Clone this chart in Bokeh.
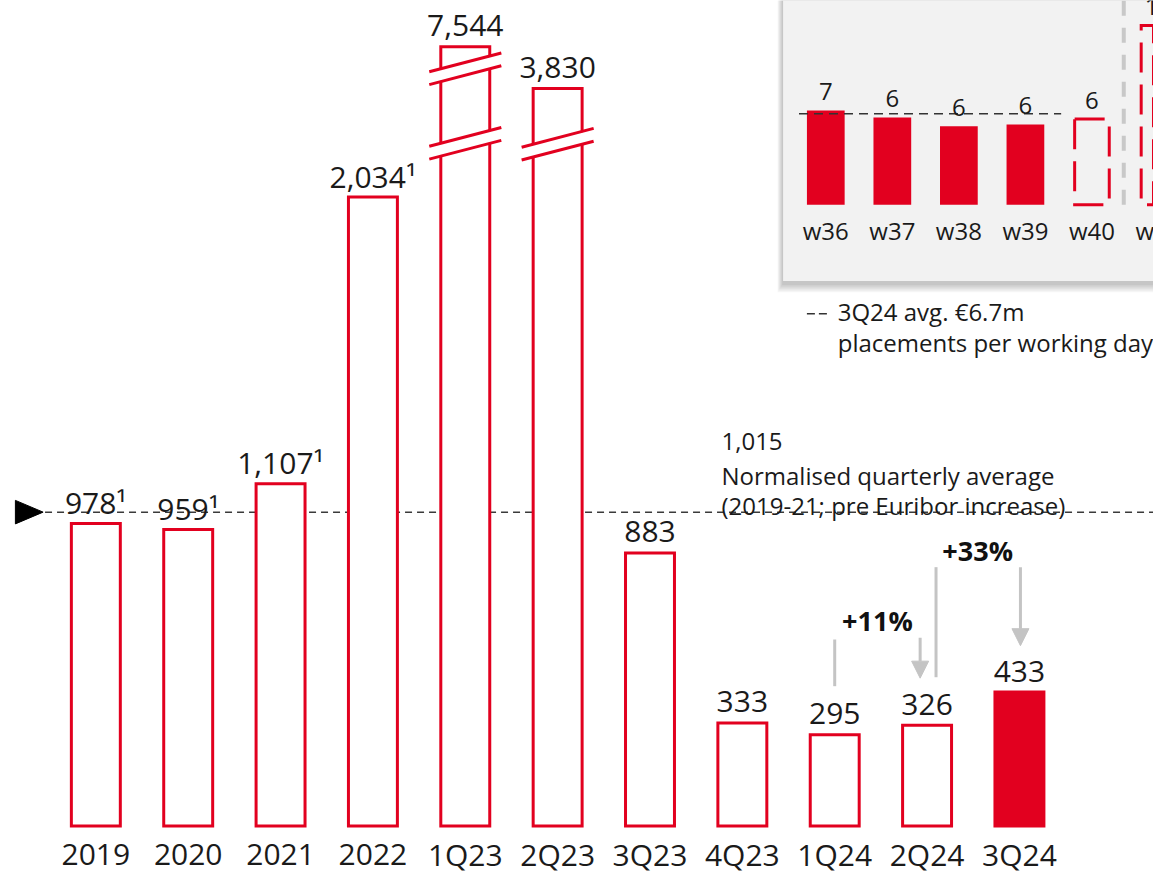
from bokeh.plotting import figure
from bokeh.models import Range1d, Arrow, NormalHead, ColumnDataSource
from bokeh.core.properties import value
from bokeh.embed import file_html
from bokeh.resources import INLINE

# ---------------- data ----------------
categories = ["2019", "2020", "2021", "2022", "1Q23", "2Q23", "3Q23", "4Q23", "1Q24", "2Q24", "3Q24"]
values = [978, 959, 1107, 2034, 7544, 3830, 883, 333, 295, 326, 433]
footnotes = ["¹", "¹", "¹", "¹", "", "", "", "", "", "", ""]
highlight = [False] * 10 + [True]
# bars drawn with an axis break: height shown on the truncated scale
broken_shown = {"1Q23": 2520, "2Q23": 2385}
break_marks = {"1Q23": [2449, 2208], "2Q23": [2205]}
normalised_avg = 1015

weeks = ["w36", "w37", "w38", "w39", "w40", "w41"]
week_values = [6.93, 6.42, 5.77, 5.91, 6.3, 13.2]
week_labels = ["7", "6", "6", "6", "6", "13"]
week_partial = [False, False, False, False, True, True]
week_avg = 6.7

RED = "#E2001F"
TXT = "#1a1a1a"
GRAY = "#c4c4c4"
FONT = value("Open Sans")

W, H = 1153, 872
p = figure(width=W, height=H, x_range=Range1d(-1.0323, 11.4516),
           y_range=Range1d(-150.64, 2669.9), output_backend="svg",
           toolbar_location=None, min_border=0, x_axis_type=None, y_axis_type=None)
p.grid.visible = False
p.outline_line_color = None
p.background_fill_color = "white"
p.extra_x_ranges = {"ix": Range1d(-12.403, 4.925)}
p.extra_y_ranges = {"iy": Range1d(-49.197, 15.037)}
IX = dict(x_range_name="ix", y_range_name="iy")

# ---------------- inset box ----------------
L, R, B, T = -0.642, 6.0, -5.62, 20.0
for k in range(6):
    e = k * 1.5
    p.quad(left=L + (-1 - e * 0.6) / 67, right=R, bottom=B - (4 + e) / 13.7, top=T,
           fill_color="black", fill_alpha=0.04, line_color=None, **IX)
p.quad(left=L, right=R, bottom=B, top=T, fill_color="#f2f2f2", line_color=None, **IX)

wx = list(range(len(weeks)))
solid = [i for i in wx if not week_partial[i]]
part = [i for i in wx if week_partial[i]]
p.vbar(x=solid, top=[week_values[i] for i in solid], bottom=0, width=0.567,
       fill_color=RED, line_color=None, **IX)
p.vbar(x=part, top=[week_values[i] for i in part], bottom=0, width=0.52,
       fill_color=None, line_color=RED, line_width=3, line_dash="30 12", line_join="miter", **IX)
p.segment(x0=[-0.403], y0=[week_avg], x1=[3.537], y1=[week_avg], line_color="#333333",
          line_width=1.5, line_dash="9 6", **IX)
p.segment(x0=[4.478], y0=[0], x1=[4.478], y1=[20], line_color="#c8c8c8",
          line_width=4, line_dash="15 12", **IX)
p.text(x=wx, y=week_values, text=week_labels, text_align="center", text_baseline="middle",
       y_offset=-19, text_font=FONT, text_font_size="24px", text_color=TXT, **IX)
p.text(x=wx, y=[0] * len(wx), text=weeks, text_align="center", text_baseline="middle",
       y_offset=26, text_font=FONT, text_font_size="24px", text_color=TXT, **IX)
# legend
p.segment(x0=[-0.284], y0=[-8.03], x1=[0.045], y1=[-8.03], line_color="#333333",
          line_width=1.5, line_dash="8 4", **IX)
p.text(x=[0.179, 0.179], y=[-7.88, -10.15],
       text=["3Q24 avg. €6.7m", "placements per working day"],
       text_align="left", text_baseline="middle", text_font=FONT,
       text_font_size="24px", text_color=TXT, **IX)

# ---------------- main chart ----------------
xs = list(range(len(categories)))
shown = [broken_shown.get(c, v) for c, v in zip(categories, values)]
src = ColumnDataSource(dict(
    x=xs, top=shown,
    fill=[RED if h else "white" for h in highlight],
    label=[f"{v:,}{f}" for v, f in zip(values, footnotes)],
    cat=categories, zero=[0] * len(xs)))

# normalised average reference line
p.segment(x0=[-0.55], y0=[normalised_avg], x1=[11.6], y1=[normalised_avg],
          line_color="#3a3a3a", line_width=1.5, line_dash="7 5")
p.patch(x=[-0.871, -0.571, -0.871], y=[normalised_avg + 38, normalised_avg, normalised_avg - 38],
        fill_color="black", line_color="black")

p.vbar(x="x", top="top", bottom=0, width=0.53, fill_color="fill", line_color=RED,
       line_width=3, line_join="miter", source=src)

# axis-break marks
for cat, ys in break_marks.items():
    i = categories.index(cat)
    for yc in ys:
        p.patch(x=[i - 0.31, i + 0.31, i + 0.31, i - 0.31],
                y=[yc - 18 - 24.2, yc - 18 + 24.2, yc + 18 + 24.2, yc + 18 - 24.2],
                fill_color="white", line_color=None)
        for s in (-20.8, 20.8):
            p.line(x=[i - 0.39, i + 0.39], y=[yc + s - 30.4, yc + s + 30.4],
                   line_color=RED, line_width=3)

p.text(x="x", y="top", text="label", text_align="center", text_baseline="middle",
       y_offset=-21, text_font=FONT, text_font_size="30px", text_color=TXT, source=src)
p.text(x="x", y="zero", text="cat", text_align="center", text_baseline="middle",
       y_offset=29, text_font=FONT, text_font_size="30px", text_color=TXT, source=src)

# normalised average note
p.text(x=[6.774] * 3, y=[1244, 1135, 1035],
       text=[f"{normalised_avg:,}", "Normalised quarterly average", "(2019-21; pre Euribor increase)"],
       text_align="left", text_baseline="middle", text_font=FONT,
       text_font_size="24px", text_color=TXT)

# growth annotations
i1q, i2q, i3q = categories.index("1Q24"), categories.index("2Q24"), categories.index("3Q24")
p.segment(x0=[i1q, i2q + 0.097], y0=[603, 837], x1=[i1q, i2q + 0.097], y1=[452, 481],
          line_color=GRAY, line_width=3)
p.add_layout(Arrow(x_start=i2q - 0.075, y_start=609, x_end=i2q - 0.075, y_end=478,
                   line_color=GRAY, line_width=3,
                   end=NormalHead(size=17, fill_color=GRAY, line_color=GRAY)))
p.add_layout(Arrow(x_start=i3q + 0.011, y_start=837, x_end=i3q + 0.011, y_end=583,
                   line_color=GRAY, line_width=3,
                   end=NormalHead(size=17, fill_color=GRAY, line_color=GRAY)))
g1 = values[i2q] / values[i1q] - 1
g2 = values[i3q] / values[i2q] - 1
p.text(x=[8.462, 9.548], y=[663, 891], text=[f"+{g1:.0%}", f"+{g2:.0%}"],
       text_align="center", text_baseline="middle", text_font=FONT,
       text_font_size="27px", text_font_style="bold", text_color="#111111")

open("out.html", "w").write(file_html(p, INLINE))
